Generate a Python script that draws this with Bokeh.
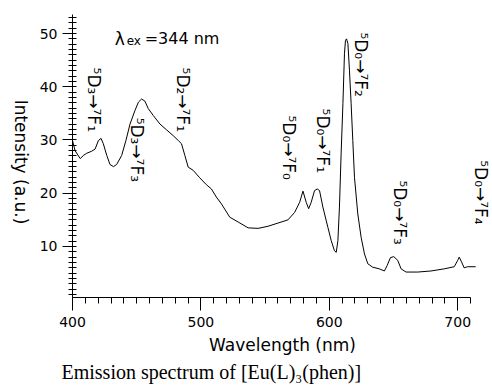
import math
from bokeh.plotting import figure
from bokeh.layouts import row
from bokeh.models import SingleIntervalTicker, Range1d, ColumnDataSource, Title
from bokeh.core.properties import value
from bokeh.embed import file_html
from bokeh.resources import INLINE

# Emission spectrum (wavelength in nm, intensity in a.u.)
wavelength = [400, 402, 406, 408.5, 411, 415, 417.6, 420.2, 422.2, 424, 426.7, 429.2,
              431.9, 434.4, 438.3, 441.6, 444.8, 448.6, 451.3, 453.8, 456.4, 459,
              462.9, 468.1, 473.3, 478.5, 482.4, 484.9, 487.5, 490.1, 494, 499.1,
              504.3, 508.2, 512, 516, 522.5, 529, 536.8, 544.5, 552.3, 560, 567.8,
              573, 576.9, 579.5, 582, 583.9, 585.9, 588.5, 590.6, 592.4, 595, 598.9,
              601.5, 604, 605.4, 606.7, 607.9, 609.2, 610.6, 611.8, 612.6, 613.4,
              614.5, 615.7, 617, 618.3, 619.6, 622.2, 624.8, 627.4, 630, 633.9, 639,
              642.9, 645, 647.6, 650.2, 653.3, 655.9, 659.8, 668.8, 679.2, 689.5,
              697.3, 700, 701.2, 703, 705, 707.7, 714]
intensity = [29.9, 28.0, 26.5, 27.1, 27.5, 27.9, 28.3, 29.9, 30.3, 29.3, 27.1, 25.4,
             25.0, 25.4, 27.1, 29.9, 33.0, 35.5, 37.1, 37.7, 37.3, 35.9,
             34.6, 33.0, 31.9, 30.8, 29.9, 29.3, 27.1, 24.9, 24.3, 22.9,
             21.6, 20.8, 19.3, 18.0, 15.5, 14.6, 13.5, 13.4, 13.8, 14.4, 15.0,
             16.4, 18.3, 20.4, 18.3, 17.1, 18.3, 20.5, 20.8, 20.5, 17.4, 13.6,
             11.1, 9.2, 8.9, 11.1, 17.4, 27.4, 36.8, 46.2, 48.7, 49.0,
             48.1, 43.1, 36.8, 29.9, 23.0, 16.1, 11.7, 8.6, 6.75, 6.1, 5.8,
             5.4, 6.4, 7.9, 8.1, 7.4, 5.8, 5.2, 5.2, 5.4, 5.8,
             6.2, 7.4, 8.0, 7.1, 6.0, 6.2, 6.2]

# Transition labels
trans_labels = ["\u2075D\u2083\u2192\u2077F\u2081", "\u2075D\u2083\u2192\u2077F\u2083",
                "\u2075D\u2082\u2192\u2077F\u2081", "\u2075D\u2080\u2192\u2077F\u2080",
                "\u2075D\u2080\u2192\u2077F\u2081", "\u2075D\u2080\u2192\u2077F\u2082",
                "\u2075D\u2080\u2192\u2077F\u2083", "\u2075D\u2080\u2192\u2077F\u2084"]
trans_x = [417, 450, 485.7, 569, 595, 624.8, 655, 718.5]
trans_y = [43.6, 34.2, 43.6, 34.6, 35.9, 50.2, 22.4, 26.2]

x_label = "Wavelength (nm)"
y_label = "Intensity (a.u.)"
caption = "Emission spectrum of [Eu(L)\u2083(phen)]"

yr = Range1d(0.42, 53.57)

# narrow strip holding the (clockwise) y-axis title
lab = figure(width=36, height=385, x_range=Range1d(0, 36), y_range=yr,
             output_backend="svg", toolbar_location=None,
             min_border_left=0, min_border_right=0, min_border_top=14, min_border_bottom=88)
lab.axis.visible = False
lab.grid.visible = False
lab.outline_line_color = None
lab.background_fill_color = "white"
lab.border_fill_color = "white"
lab.text(x=[20], y=[25.87], text=[y_label], angle=-math.pi / 2, text_align="center",
         text_baseline="middle", text_font=value("DejaVu Sans"), text_font_size="17px",
         text_color="black")

p = figure(width=456, height=385, x_range=Range1d(400, 727.1), y_range=yr,
           output_backend="svg", toolbar_location=None,
           min_border_left=35, min_border_right=0, min_border_top=14, min_border_bottom=88)
p.outline_line_color = None
p.xgrid.visible = False
p.ygrid.visible = False
p.background_fill_color = "white"
p.border_fill_color = "white"

p.line(wavelength, intensity, line_color="black", line_width=1)

src = ColumnDataSource(dict(x=trans_x, y=trans_y, t=trans_labels))
p.text(x="x", y="y", text="t", source=src, angle=-math.pi / 2, text_align="left",
       text_baseline="middle", text_font=value("DejaVu Sans"), text_font_size="17px",
       text_color="black")

# lambda_ex label
p.text(x=[432.9], y=[49.0], text=["\u03bb"], text_font=value("DejaVu Sans"),
       text_font_size="17px", text_baseline="alphabetic", text_color="black")
p.text(x=[442.2], y=[48.5], text=["ex"], text_font=value("DejaVu Sans"),
       text_font_size="12px", text_baseline="alphabetic", text_color="black")
p.text(x=[456.2], y=[49.0], text=["=344 nm"], text_font=value("DejaVu Sans"),
       text_font_size="16px", text_baseline="alphabetic", text_color="black")

xa = p.xaxis[0]
xa.ticker = SingleIntervalTicker(interval=100, num_minor_ticks=10)
xa.bounds = (400, 710)
xa.major_tick_out = 13
xa.major_tick_in = 0
xa.minor_tick_out = 6
xa.minor_tick_in = 0
xa.major_label_standoff = 6
xa.major_label_text_font = "DejaVu Sans"
xa.major_label_text_font_size = "14px"
xa.major_label_text_color = "black"
xa.axis_line_color = "black"
xa.major_tick_line_color = "black"
xa.minor_tick_line_color = "black"
xa.axis_label = x_label
xa.axis_label_standoff = 5
xa.axis_label_text_font = "DejaVu Sans"
xa.axis_label_text_font_size = "17px"
xa.axis_label_text_font_style = "normal"
xa.axis_label_text_color = "black"

ya = p.yaxis[0]
ya.ticker = SingleIntervalTicker(interval=10, num_minor_ticks=10)
ya.major_tick_out = 10
ya.major_tick_in = 2
ya.minor_tick_out = 4
ya.minor_tick_in = 4
ya.major_label_standoff = 5
ya.major_label_text_font = "DejaVu Sans"
ya.major_label_text_font_size = "14px"
ya.major_label_text_color = "black"
ya.axis_line_color = "black"
ya.major_tick_line_color = "black"
ya.minor_tick_line_color = "black"

cap = Title(text=caption, align="left", offset=-11, standoff=2,
            text_font="Liberation Serif", text_font_size="20px",
            text_font_style="normal", text_color="black")
p.add_layout(cap, "below")

layout = row(lab, p)
open("out.html", "w").write(file_html(layout, INLINE))
